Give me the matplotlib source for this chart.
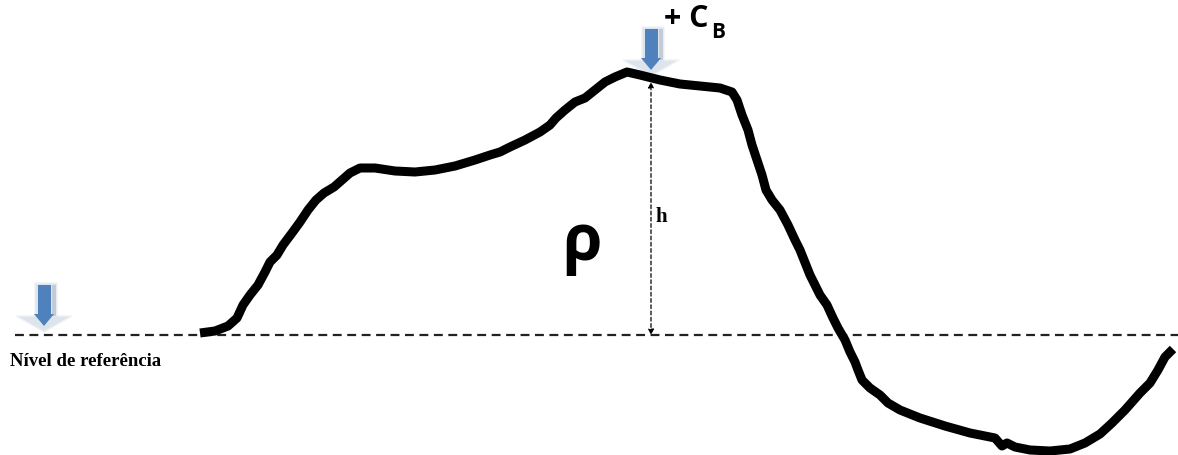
import matplotlib.pyplot as plt
from matplotlib.patches import Polygon

# terrain profile, traced in picture pixels (x right, y down)
terrain_x = [200, 215, 228, 237, 243, 250, 258, 265, 270, 277, 283, 292, 300, 308, 316, 324,
             334, 342, 350, 360, 375, 395, 415, 435, 455, 475, 490, 500, 510, 525, 540, 550,
             556, 565, 575, 585, 595, 605, 615, 627, 640, 660, 680, 700, 720, 732, 737, 742,
             748, 752, 757, 762, 766, 772, 780, 788, 795, 800, 806, 810, 815, 820, 827, 833,
             838, 845, 850, 855, 858, 862, 870, 880, 888, 900, 920, 945, 970, 995, 1002, 1007,
             1015, 1030, 1050, 1070, 1085, 1100, 1112, 1125, 1140, 1150, 1158, 1165, 1173]
terrain_y = [333, 331, 326, 318, 305, 295, 285, 272, 262, 255, 245, 233, 222, 210, 200, 193,
             187, 180, 173, 168, 168, 171, 172, 170, 166, 160, 155, 152, 147, 140, 132, 125,
             118, 110, 102, 98, 90, 82, 77, 72, 75, 80, 84, 86, 88, 92, 100, 115,
             130, 145, 160, 175, 190, 200, 210, 225, 240, 250, 265, 275, 285, 295, 305, 318,
             328, 340, 352, 362, 370, 380, 388, 395, 403, 410, 418, 426, 433, 438, 446, 443,
             447, 450, 451, 449, 443, 434, 423, 410, 393, 383, 370, 357, 349]

ref_level = 335
h_x = 651
h_top = 82

fig = plt.figure(figsize=(11.78, 4.55), dpi=100)
ax = fig.add_axes([0, 0, 1, 1])
ax.set_xlim(0, 1178)
ax.set_ylim(455, 0)
ax.axis('off')

# reference level
ax.plot([15, 1178], [ref_level, ref_level], color='#222222', lw=1.6, ls=(0, (4, 2.5)))

# terrain
ax.plot(terrain_x, terrain_y, color='black', lw=6.5, solid_capstyle='butt', solid_joinstyle='round')

# height h
ax.annotate('', xy=(h_x, h_top), xytext=(h_x, ref_level),
            arrowprops=dict(arrowstyle='<|-|>', color='black', lw=0.9, ls=(0, (3, 2)),
                            mutation_scale=8, shrinkA=0, shrinkB=0))


def block_arrow(cx, top, bottom):
    # pale outer arrow (shadow) and blue inner arrow
    neck = bottom - 16
    outer = [(cx - 9, top), (cx + 13, top), (cx + 13, neck), (cx + 28, neck),
             (cx, bottom), (cx - 28, neck), (cx - 9, neck)]
    ax.add_patch(Polygon(outer, closed=True, facecolor='#dde4ec', edgecolor='#eef2f6', lw=1))
    ax.add_patch(Polygon([(cx + 8, top + 2), (cx + 12, top + 2), (cx + 12, neck), (cx + 8, neck)],
                         closed=True, facecolor='#c3ccd6', edgecolor='none'))
    inner = [(cx - 6, top + 2), (cx + 7, top + 2), (cx + 7, neck - 2), (cx + 10, neck - 2),
             (cx, bottom - 6), (cx - 10, neck - 2), (cx - 6, neck - 2)]
    ax.add_patch(Polygon(inner, closed=True, facecolor='#4f81bd', edgecolor='none'))


block_arrow(44, 283, 332)
block_arrow(651, 27, 76)

ax.text(10, 362, 'Nível de referência', fontsize=13.5, fontweight='bold',
        family='Liberation Serif', va='center', ha='left')
ax.text(655, 217, 'h', fontsize=15, fontweight='bold', family='Liberation Serif',
        va='center', ha='left')
ax.text(582, 243, 'ρ', fontsize=46, fontweight='bold', family='Open Sans',
        va='center', ha='center')
ax.text(664, 19, '+ C', fontsize=22, fontweight='bold', family='Open Sans',
        va='center', ha='left')
ax.text(711, 33, 'B', fontsize=15, fontweight='bold', family='Open Sans',
        va='center', ha='left')

fig.savefig('out.png', dpi=100)
